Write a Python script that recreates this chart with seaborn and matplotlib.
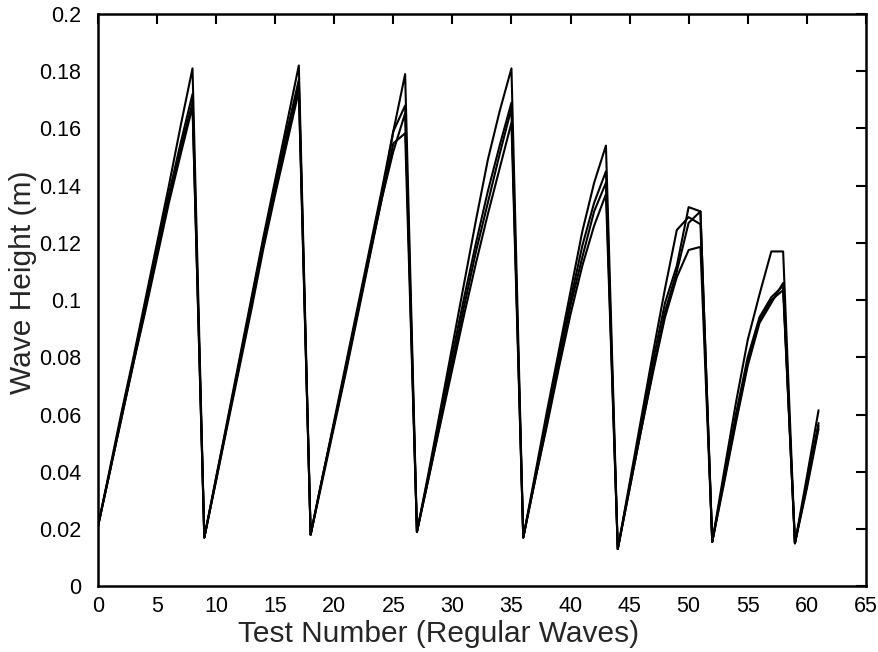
import matplotlib
matplotlib.use("Agg")
import matplotlib.pyplot as plt
import seaborn as sns
import pandas as pd
import numpy as np

test_numbers = list(range(62))

run_a = [0.021, 0.041, 0.061, 0.080, 0.100, 0.120, 0.140, 0.161, 0.181,
         0.017, 0.038, 0.059, 0.080, 0.101, 0.122, 0.142, 0.162, 0.182,
         0.018, 0.038, 0.058, 0.078, 0.098, 0.118, 0.138, 0.159, 0.179,
         0.019, 0.040, 0.062, 0.084, 0.106, 0.128, 0.149, 0.166, 0.181,
         0.017, 0.039, 0.061, 0.082, 0.103, 0.124, 0.141, 0.154,
         0.013, 0.036, 0.059, 0.082, 0.104, 0.1245, 0.129, 0.1265,
         0.0155, 0.040, 0.064, 0.086, 0.102, 0.117, 0.117,
         0.015, 0.038, 0.0615]

run_b = [0.021, 0.040, 0.060, 0.079, 0.098, 0.118, 0.137, 0.155, 0.172,
         0.017, 0.038, 0.058, 0.079, 0.100, 0.121, 0.140, 0.159, 0.177,
         0.018, 0.038, 0.057, 0.077, 0.097, 0.116, 0.136, 0.159, 0.168,
         0.019, 0.039, 0.060, 0.081, 0.101, 0.120, 0.138, 0.154, 0.169,
         0.017, 0.038, 0.059, 0.080, 0.100, 0.119, 0.134, 0.145,
         0.013, 0.035, 0.057, 0.079, 0.099, 0.112, 0.1325, 0.131,
         0.0155, 0.038, 0.060, 0.080, 0.094, 0.101, 0.105,
         0.015, 0.036, 0.057]

run_c = [0.021, 0.040, 0.059, 0.078, 0.097, 0.117, 0.136, 0.153, 0.169,
         0.017, 0.037, 0.058, 0.078, 0.099, 0.120, 0.139, 0.157, 0.175,
         0.018, 0.038, 0.057, 0.076, 0.096, 0.116, 0.135, 0.152, 0.1653,
         0.019, 0.038, 0.058, 0.078, 0.098, 0.117, 0.134, 0.151, 0.167,
         0.017, 0.037, 0.057, 0.078, 0.098, 0.115, 0.131, 0.141,
         0.013, 0.034, 0.055, 0.076, 0.096, 0.110, 0.127, 0.131,
         0.0155, 0.037, 0.058, 0.078, 0.093, 0.100, 0.1035,
         0.015, 0.035, 0.056]

run_d = [0.021, 0.040, 0.059, 0.078, 0.096, 0.115, 0.134, 0.151, 0.1676,
         0.017, 0.037, 0.057, 0.077, 0.097, 0.118, 0.137, 0.155, 0.173,
         0.018, 0.037, 0.056, 0.075, 0.095, 0.115, 0.135, 0.1548, 0.1583,
         0.019, 0.038, 0.057, 0.076, 0.095, 0.113, 0.130, 0.146, 0.162,
         0.017, 0.037, 0.056, 0.076, 0.095, 0.112, 0.126, 0.137,
         0.013, 0.034, 0.055, 0.075, 0.094, 0.108, 0.1175, 0.1186,
         0.0155, 0.036, 0.057, 0.077, 0.092, 0.099, 0.106,
         0.015, 0.034, 0.055]

run_names = ["A", "B", "C", "D"]

x_ticks = [0, 5, 10, 15, 20, 25, 30, 35, 40, 45, 50, 55, 60, 65]
x_tick_labels = ["0", "5", "10", "15", "20", "25", "30", "35", "40", "45", "50", "55", "60", "65"]
y_ticks = [0, 0.02, 0.04, 0.06, 0.08, 0.1, 0.12, 0.14, 0.16, 0.18, 0.2]
y_tick_labels = ["0", "0.02", "0.04", "0.06", "0.08", "0.1", "0.12", "0.14", "0.16", "0.18", "0.2"]

frames = []
for name, vals in zip(run_names, [run_a, run_b, run_c, run_d]):
    frames.append(pd.DataFrame({"test": test_numbers, "height": vals, "run": name}))
df = pd.concat(frames, ignore_index=True)

sns.set_style("white")
plt.rcParams["font.family"] = ["Liberation Sans", "DejaVu Sans"]

fig = plt.figure(figsize=(8.79, 6.52), dpi=100)
ax = fig.add_axes([0.1115, 0.101, 0.8735, 0.8775])

sns.lineplot(data=df, x="test", y="height", units="run", estimator=None,
             color="black", linewidth=1.5, ax=ax, legend=False)

ax.set_xlim(0, 65)
ax.set_ylim(0, 0.2)
ax.set_xticks(x_ticks)
ax.set_xticklabels(x_tick_labels)
ax.set_yticks(y_ticks)
ax.set_yticklabels(y_tick_labels)
ax.tick_params(direction="in", length=7, width=1.5, top=True, right=True,
               labelsize=15.5, colors="black")
ax.tick_params(axis="x", pad=7)
ax.tick_params(axis="y", pad=12)
for s in ax.spines.values():
    s.set_visible(True)
    s.set_color("black")
    s.set_linewidth(1.8)

ax.set_xlabel("Test Number (Regular Waves)", fontsize=21.5)
ax.set_ylabel("Wave Height (m)", fontsize=21.5)
ax.xaxis.set_label_coords(0.444, -0.060)
ax.yaxis.set_label_coords(-0.080, 0.531)

fig.savefig("out.png", dpi=100, facecolor="white")
